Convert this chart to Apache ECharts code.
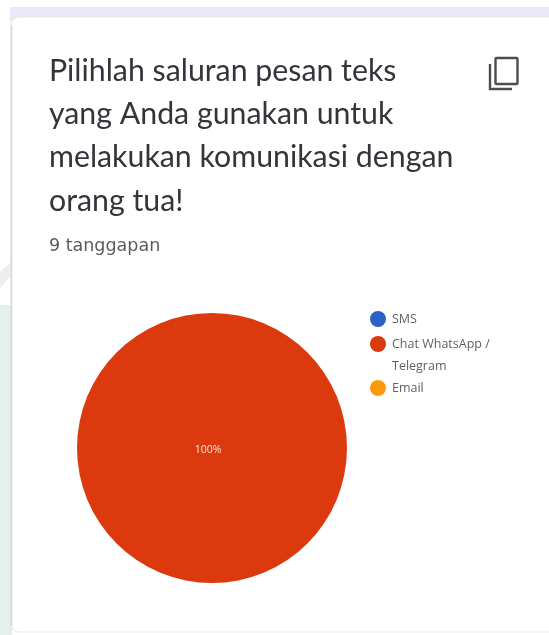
<!DOCTYPE html>
<html>
<head>
<meta charset="utf-8">
<style>html,body{margin:0;padding:0;background:#fff}#c{width:549px;height:635px}</style>
<script src="https://cdn.jsdelivr.net/npm/echarts@6/dist/echarts.min.js"></script>
</head>
<body>
<div id="c"></div>
<script>
// Survey responses per messaging channel
const categories = ['SMS', 'Chat WhatsApp /', 'Email'];
const responses = [0, 9, 0];
const colors = ['#2a62c9', '#dc3a0e', '#fb9a0d'];
const legendTops = [311, 336, 380];
const legendContinuation = 'Telegram';
const titleLines = ['Pilihlah saluran pesan teks', 'yang Anda gunakan untuk', 'melakukan komunikasi dengan', 'orang tua!'];
const responseCount = '9 tanggapan';

const legendText = { fontFamily: 'Open Sans', fontSize: 12.5, color: '#5f5f66' };
const chart = echarts.init(document.getElementById('c'));
chart.setOption({
  animation: false,
  backgroundColor: '#ffffff',
  color: colors,
  // one legend per entry: the wrapped entry keeps its marker on the first line
  legend: categories.map((name, i) => ({
    data: [name],
    orient: 'vertical',
    left: 365,
    top: legendTops[i] - 5,
    itemWidth: 16,
    itemHeight: 16,
    icon: 'circle',
    selectedMode: false,
    textStyle: { ...legendText, padding: [6, 0, 0, 1] }
  })),
  series: [{
    type: 'pie',
    center: [212, 448],
    radius: [0, 135],
    startAngle: 90,
    stillShowZeroSum: false,
    label: {
      position: 'center',
      formatter: p => p.value > 0 ? Math.round(p.percent) + '%' : '',
      color: '#fbe4dc',
      fontFamily: 'Open Sans',
      fontSize: 10.5,
      offset: [-4, 2]
    },
    labelLine: { show: false },
    emphasis: { disabled: true },
    data: categories.map((name, i) => ({ name, value: responses[i] }))
  }],
  graphic: [
    // page backdrop behind the card
    { type: 'rect', z: -10, shape: { x: 10, y: 7, width: 539, height: 14 }, style: { fill: '#e9e9f7' } },
    { type: 'rect', z: -10, shape: { x: 0, y: 305, width: 12, height: 330 }, style: { fill: '#e3f1ea' } },
    { type: 'polygon', z: -10, shape: { points: [[0, 272], [11, 262], [11, 276], [0, 288]] }, style: { fill: '#eeeeec' } },
    // card
    { type: 'rect', z: -9, shape: { x: 11, y: 17, width: 560, height: 615, r: 8 },
      style: { fill: '#ffffff', stroke: '#e6e6ea', lineWidth: 1 } },
    { type: 'line', z: -8, shape: { x1: 11.5, y1: 26, x2: 11.5, y2: 626 },
      style: { stroke: '#d6d6d8', lineWidth: 1.5 } },
    // bottom edge fades out against the page
    { type: 'line', z: -8, shape: { x1: 20, y1: 632, x2: 549, y2: 632 },
      style: { stroke: '#f4f4f4', lineWidth: 1.5 } },
    // question text
    ...titleLines.map((text, i) => ({
      type: 'text', z: 5, left: 49, top: 56 + i * 43.3,
      style: { text, fontFamily: 'Lato', fontSize: 30.3, fill: '#34343a' }
    })),
    { type: 'text', z: 5, left: 49, top: 237,
      style: { text: responseCount, fontFamily: 'DejaVu Sans', fontSize: 17.5, fill: '#5a5a60' } },
    // continuation of the wrapped legend entry
    { type: 'text', z: 5, left: 392, top: 360,
      style: { text: legendContinuation, fontFamily: legendText.fontFamily, fontSize: legendText.fontSize, fill: legendText.color } },
    // copy icon
    { type: 'rect', z: 5, shape: { x: 495.5, y: 58, width: 22, height: 26, r: 1 },
      style: { fill: 'none', stroke: '#4c4c52', lineWidth: 2.4 } },
    { type: 'polyline', z: 5, shape: { points: [[490, 64], [490, 89], [512, 89]] },
      style: { fill: 'none', stroke: '#4c4c52', lineWidth: 2.4 } }
  ]
});
</script>
</body>
</html>
